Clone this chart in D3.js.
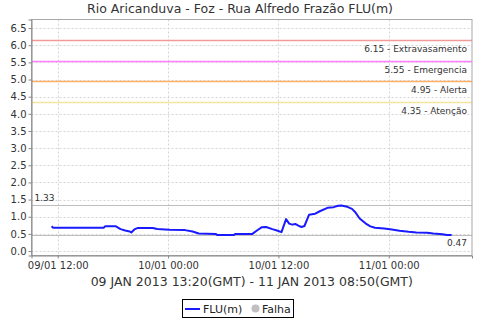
<!DOCTYPE html>
<html>
<head>
<meta charset="utf-8">
<script src="https://cdn.jsdelivr.net/npm/d3@7"></script>
<style>
  body { margin: 0; background: #fff; }
  svg { display: block; font-family: "DejaVu Sans", sans-serif; }
</style>
</head>
<body>
<div id="chart"></div>
<script>
// Chart size
const width = 480;
const height = 320;

// Level readings, local time (GMT-2), day/01 HH:MM
const times = [
  "09 11:20", "09 11:30", "09 17:00", "09 17:10", "09 18:20", "09 18:50", "09 19:20",
  "09 19:50", "09 20:00", "09 20:20", "09 20:40", "09 22:20", "09 22:50", "09 23:40",
  "10 00:10", "10 01:50", "10 02:40", "10 03:20", "10 05:10", "10 05:20", "10 07:10",
  "10 07:20", "10 09:10", "10 09:40", "10 10:10", "10 10:40", "10 11:20", "10 11:50",
  "10 12:20", "10 12:50", "10 13:10", "10 13:30", "10 13:50", "10 14:10", "10 14:30",
  "10 14:50", "10 15:20", "10 16:00", "10 16:30", "10 17:20", "10 18:00", "10 18:30",
  "10 18:50", "10 19:30", "10 20:00", "10 20:20", "10 20:50", "10 21:30", "10 22:00",
  "10 22:30", "10 23:30", "11 00:20", "11 01:10", "11 02:10", "11 03:00", "11 04:10",
  "11 04:50", "11 05:50", "11 06:20", "11 06:50"
];
const flu = [
  0.72, 0.68, 0.68, 0.72, 0.72, 0.64, 0.60,
  0.57, 0.54, 0.63, 0.67, 0.67, 0.64, 0.63,
  0.62, 0.61, 0.57, 0.51, 0.50, 0.47, 0.47,
  0.50, 0.50, 0.60, 0.69, 0.70, 0.64, 0.60,
  0.55, 0.93, 0.80, 0.77, 0.79, 0.74, 0.70,
  0.73, 1.06, 1.09, 1.16, 1.26, 1.28, 1.32,
  1.33, 1.29, 1.23, 1.14, 0.95, 0.80, 0.72,
  0.68, 0.66, 0.63, 0.59, 0.56, 0.54, 0.53,
  0.51, 0.49, 0.47, 0.47
];

// Alarm levels
const levelValues = [6.15, 5.55, 4.95, 4.35];
const levelNames = ["Extravasamento", "Emergencia", "Alerta", "Atenção"];
const levelColors = ["#f29a9a", "#ff80ff", "#ffb066", "#f5e4a0"];

// Axis ticks
const yTicks = [0, 0.5, 1, 1.5, 2, 2.5, 3, 3.5, 4, 4.5, 5, 5.5, 6, 6.5];
const xTicks = ["09 12:00", "10 00:00", "10 12:00", "11 00:00"];

const title = "Rio Aricanduva - Foz - Rua Alfredo Frazão FLU(m)";
const subtitle = "09 JAN 2013 13:20(GMT) - 11 JAN 2013 08:50(GMT)";

const parse = d3.utcParse("%d %H:%M");
const data = times.map((t, i) => ({ date: parse(t), value: flu[i] }));

const margin = { top: 19.5, right: 8, bottom: 64.5, left: 31.5 };
const x = d3.scaleUtc()
  .domain([parse("09 09:09"), parse("11 09:03")])
  .range([margin.left, width - margin.right]);
const y = d3.scaleLinear()
  .domain([-0.13, 6.75])
  .range([height - margin.bottom, margin.top]);

const svg = d3.select("#chart").append("svg")
  .attr("width", width)
  .attr("height", height);

// Title
svg.append("text")
  .attr("x", 240).attr("y", 13)
  .attr("text-anchor", "middle")
  .attr("font-size", 12.5)
  .attr("fill", "#333")
  .text(title);

// Grid
const grid = svg.append("g")
  .attr("stroke", "#d4d4d4")
  .attr("stroke-dasharray", "2,2");
grid.selectAll(".gy").data(yTicks).join("line")
  .attr("x1", margin.left).attr("x2", width - margin.right)
  .attr("y1", d => Math.round(y(d)) + 0.5).attr("y2", d => Math.round(y(d)) + 0.5);
grid.selectAll(".gx").data(xTicks.map(parse)).join("line")
  .attr("y1", margin.top).attr("y2", height - margin.bottom)
  .attr("x1", d => Math.round(x(d)) + 0.5).attr("x2", d => Math.round(x(d)) + 0.5);

// Alarm lines
levelValues.forEach((v, i) => {
  const yy = Math.round(y(v)) + 0.5;
  svg.append("line")
    .attr("x1", margin.left).attr("x2", width - margin.right)
    .attr("y1", yy).attr("y2", yy)
    .attr("stroke", levelColors[i]).attr("stroke-width", 1.5);
  svg.append("text")
    .attr("x", width - margin.right - 5).attr("y", yy + 11)
    .attr("text-anchor", "end")
    .attr("font-size", 9)
    .attr("fill", "#333")
    .text(`${v.toFixed(2)} - ${levelNames[i]}`);
});

// Max / min lines
const maxV = d3.max(flu), minV = d3.min(flu);
[maxV, minV].forEach(v => {
  const yy = Math.round(y(v)) + 0.5;
  svg.append("line")
    .attr("x1", margin.left).attr("x2", width - margin.right)
    .attr("y1", yy).attr("y2", yy)
    .attr("stroke", "#bdbdbd").attr("stroke-width", 1.2);
});
svg.append("text")
  .attr("x", margin.left + 3).attr("y", y(maxV) - 4)
  .attr("font-size", 9).attr("fill", "#333")
  .text(maxV.toFixed(2));
svg.append("text")
  .attr("x", width - margin.right - 5).attr("y", y(minV) + 11)
  .attr("text-anchor", "end")
  .attr("font-size", 9).attr("fill", "#333")
  .text(minV.toFixed(2));

// Series line
const line = d3.line()
  .x(d => x(d.date))
  .y(d => y(d.value));
svg.append("path")
  .datum(data)
  .attr("fill", "none")
  .attr("stroke", "#1a1aff")
  .attr("stroke-width", 2)
  .attr("stroke-linejoin", "round")
  .attr("d", line);

// Plot border
svg.append("rect")
  .attr("x", margin.left).attr("y", margin.top)
  .attr("width", width - margin.right - margin.left)
  .attr("height", height - margin.bottom - margin.top)
  .attr("fill", "none").attr("stroke", "#a8a8a8");

// Axes
const yAxis = svg.append("g")
  .attr("transform", `translate(${margin.left},0)`)
  .call(d3.axisLeft(y).tickValues(yTicks).tickFormat(d3.format(".1f")).tickSize(3).tickPadding(2));
const xAxis = svg.append("g")
  .attr("transform", `translate(0,${height - margin.bottom})`)
  .call(d3.axisBottom(x).tickValues(xTicks.map(parse)).tickFormat(d3.utcFormat("%d/01 %H:%M")).tickSize(3).tickPadding(3));
[yAxis, xAxis].forEach(g => {
  g.select(".domain").attr("stroke", "#888");
  g.selectAll(".tick line").attr("stroke", "#888");
  g.selectAll("text").attr("font-size", 10).attr("fill", "#333")
    .attr("font-family", "DejaVu Sans, sans-serif");
});

// Subtitle
svg.append("text")
  .attr("x", (margin.left + width - margin.right) / 2).attr("y", 286)
  .attr("text-anchor", "middle")
  .attr("font-size", 12.5)
  .attr("fill", "#333")
  .text(subtitle);

// Legend
const lg = svg.append("g");
lg.append("rect")
  .attr("x", 182.5).attr("y", 299.5).attr("width", 111).attr("height", 18)
  .attr("fill", "#fff").attr("stroke", "#000");
lg.append("line")
  .attr("x1", 185).attr("x2", 200).attr("y1", 309).attr("y2", 309)
  .attr("stroke", "#1a1aff").attr("stroke-width", 2);
lg.append("text")
  .attr("x", 203).attr("y", 313).attr("font-size", 11).attr("fill", "#222")
  .text("FLU(m)");
lg.append("circle")
  .attr("cx", 255.5).attr("cy", 308.5).attr("r", 4)
  .attr("fill", "#c0c0c0");
lg.append("text")
  .attr("x", 262).attr("y", 313).attr("font-size", 11).attr("fill", "#222")
  .text("Falha");
</script>
</body>
</html>
